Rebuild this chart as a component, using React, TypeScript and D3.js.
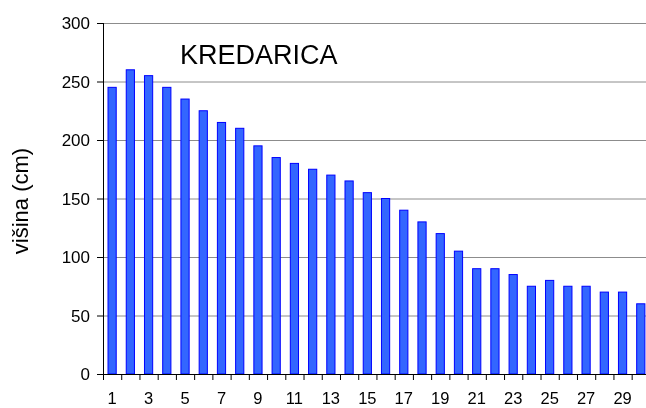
import React, { useEffect, useRef } from "react";
import * as d3 from "d3";

// dnevi in višina snega
const days = d3.range(1, 31);
const heights = [
  245, 260, 255, 245, 235, 225, 215, 210, 195, 185,
  180, 175, 170, 165, 155, 150, 140, 130, 120, 105,
  90, 90, 85, 75, 80, 75, 75, 70, 70, 60,
];
const yTicks = [0, 50, 100, 150, 200, 250, 300];
const xLabels = days.filter((d) => d % 2 === 1);

const App = () => {
  const ref = useRef<SVGSVGElement>(null);

  useEffect(() => {
    const width = 646;
    const height = 408;
    const left = 103;
    const top = 23;
    const bottom = 374;
    const step = 18.23;

    const svg = d3.select(ref.current)
      .attr("width", width)
      .attr("height", height);
    svg.selectAll("*").remove();

    const x = d3.scaleBand<number>()
      .domain(days)
      .range([left, left + step * days.length])
      .paddingInner(0.55)
      .paddingOuter(0.275);

    const y = d3.scaleLinear().domain([0, 300]).range([bottom, top]);

    const font = "'Liberation Sans', Arial, sans-serif";

    // mreža
    svg.append("g")
      .selectAll("line")
      .data(yTicks.filter((d) => d > 0))
      .join("line")
      .attr("x1", left)
      .attr("x2", width)
      .attr("y1", (d) => y(d) + 0.5)
      .attr("y2", (d) => y(d) + 0.5)
      .attr("stroke", "#8c8c8c")
      .attr("stroke-width", 1);

    // stolpci
    svg.append("g")
      .selectAll("rect")
      .data(heights)
      .join("rect")
      .attr("x", (d, i) => x(days[i])!)
      .attr("y", (d) => y(d))
      .attr("width", x.bandwidth())
      .attr("height", (d) => bottom - y(d))
      .attr("fill", "#3366ff")
      .attr("stroke", "#0000ff")
      .attr("stroke-width", 1);

    // os y
    svg.append("line")
      .attr("x1", left + 0.5).attr("x2", left + 0.5)
      .attr("y1", top).attr("y2", bottom)
      .attr("stroke", "#000");
    svg.append("g")
      .selectAll("line")
      .data(yTicks)
      .join("line")
      .attr("x1", left - 6)
      .attr("x2", left)
      .attr("y1", (d) => y(d) + 0.5)
      .attr("y2", (d) => y(d) + 0.5)
      .attr("stroke", "#000");
    svg.append("g")
      .selectAll("text")
      .data(yTicks)
      .join("text")
      .attr("x", left - 13)
      .attr("y", (d) => y(d) + 6)
      .attr("text-anchor", "end")
      .attr("font-family", font)
      .attr("font-size", 17)
      .text((d) => d);

    // os x
    svg.append("line")
      .attr("x1", left).attr("x2", width)
      .attr("y1", bottom + 0.5).attr("y2", bottom + 0.5)
      .attr("stroke", "#000");
    svg.append("g")
      .selectAll("line")
      .data(d3.range(0, days.length + 1))
      .join("line")
      .attr("x1", (i) => left + i * step + 0.5)
      .attr("x2", (i) => left + i * step + 0.5)
      .attr("y1", bottom)
      .attr("y2", bottom + 6)
      .attr("stroke", "#000");
    svg.append("g")
      .selectAll("text")
      .data(xLabels)
      .join("text")
      .attr("x", (d) => x(d)! + x.bandwidth() / 2)
      .attr("y", 404)
      .attr("text-anchor", "middle")
      .attr("font-family", font)
      .attr("font-size", 16.5)
      .text((d) => d);

    // naslovi
    svg.append("text")
      .attr("x", 180)
      .attr("y", 64)
      .attr("font-family", font)
      .attr("font-size", 27)
      .text("KREDARICA");

    svg.append("text")
      .attr("transform", "translate(28, 201) rotate(-90)")
      .attr("text-anchor", "middle")
      .attr("font-family", font)
      .attr("font-size", 22)
      .text("višina (cm)");
  }, []);

  return (
    <div style={{ position: "fixed", left: 0, top: 0 }}>
      <svg ref={ref} style={{ display: "block" }}></svg>
    </div>
  );
};

export default App;
